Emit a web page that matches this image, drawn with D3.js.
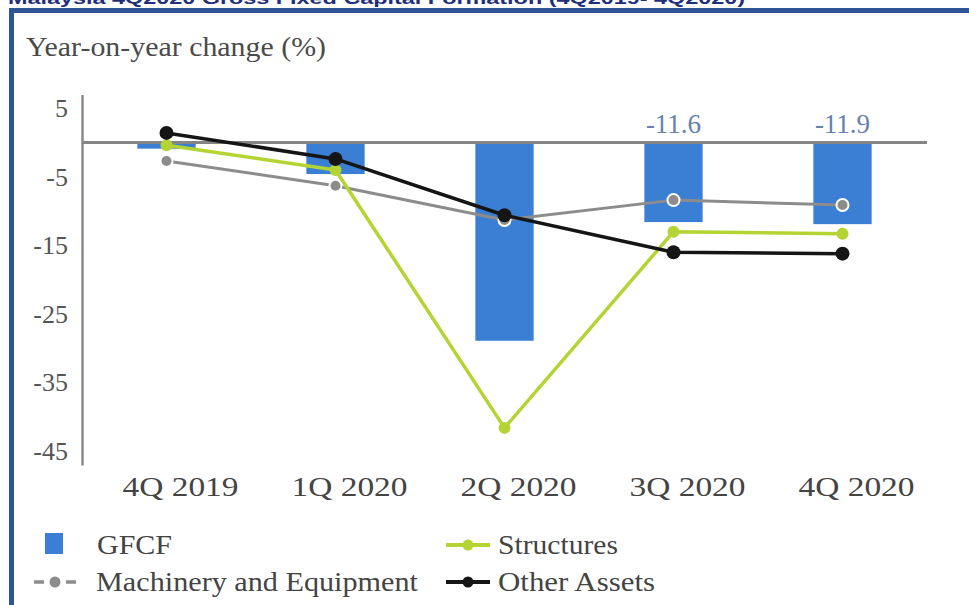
<!DOCTYPE html>
<html>
<head>
<meta charset="utf-8">
<script src="https://cdn.jsdelivr.net/npm/d3@7"></script>
<style>
  html, body { margin: 0; padding: 0; background: #ffffff; }
  svg { display: block; }
</style>
</head>
<body>
<svg id="chart" width="969" height="605"></svg>
<script>
// Quarterly year-on-year change (%) of gross fixed capital formation
const quarters = ["4Q 2019", "1Q 2020", "2Q 2020", "3Q 2020", "4Q 2020"];
const gfcf = [-0.9, -4.6, -28.9, -11.6, -11.9];
const machinery = [-2.7, -6.3, -11.3, -8.4, -9.1];
const structures = [-0.4, -4.0, -41.6, -13.0, -13.3];
const otherAssets = [1.4, -2.4, -10.6, -16.0, -16.2];
const yTicks = [5, -5, -15, -25, -35, -45];
const labelledBars = [3, 4];

const svg = d3.select("#chart");
const serif = "'Liberation Serif', 'DejaVu Serif', serif";
// plain hyphen for negatives, as printed in the source publication
const hyphenNum = (v, digits) => (v < 0 ? "-" : "") + Math.abs(v).toFixed(digits);

// Page frame: title strip and blue border
svg.append("text")
  .attr("x", 8).attr("y", 4)
  .attr("font-family", "'Liberation Sans', Arial, sans-serif")
  .attr("font-weight", "bold").attr("font-size", 17)
  .attr("fill", "#1f2f7a")
  .attr("textLength", 737).attr("lengthAdjust", "spacingAndGlyphs")
  .text("Malaysia 4Q2020 Gross Fixed Capital Formation (4Q2019- 4Q2020)");
svg.append("rect").attr("x", 9).attr("y", 8).attr("width", 960).attr("height", 5).attr("fill", "#2f5597");
svg.append("rect").attr("x", 9).attr("y", 8).attr("width", 5).attr("height", 597).attr("fill", "#2f5597");

// Scales
const x = d3.scaleBand().domain(quarters).range([82, 927]);
const y = d3.scaleLinear().domain([7, -47]).range([142.5 - 6.86 * 7, 142.5 + 6.86 * 47]);
const cx = q => x(q) + x.bandwidth() / 2;
const barW = x.bandwidth() * 0.345;

// Axis title
svg.append("text")
  .attr("x", 26).attr("y", 56)
  .attr("font-family", serif).attr("font-size", 28).attr("fill", "#4a4a4a")
  .attr("textLength", 300).attr("lengthAdjust", "spacingAndGlyphs")
  .text("Year-on-year change (%)");

// GFCF bars
svg.append("g").selectAll("rect")
  .data(quarters)
  .join("rect")
  .attr("x", q => cx(q) - barW / 2)
  .attr("width", barW)
  .attr("y", (q, i) => Math.min(y(0), y(gfcf[i])))
  .attr("height", (q, i) => Math.abs(y(gfcf[i]) - y(0)))
  .attr("fill", "#3a7fd4");

// Y axis (line + tick labels)
const yAxis = d3.axisLeft(y).tickValues(yTicks).tickSize(0).tickPadding(14)
  .tickFormat(d => hyphenNum(d, 0));
const gy = svg.append("g").attr("transform", "translate(82,0)").call(yAxis);
gy.select(".domain").attr("stroke", "#8a8a8a").attr("stroke-width", 2.5);
gy.selectAll("text")
  .attr("font-family", serif).attr("font-size", 26).attr("fill", "#555")
  .attr("dy", "0.32em");

// Zero line
svg.append("line")
  .attr("x1", 82).attr("x2", 927)
  .attr("y1", y(0)).attr("y2", y(0))
  .attr("stroke", "#858585").attr("stroke-width", 3);

// X axis labels
const xAxis = d3.axisBottom(x).tickSize(0).tickPadding(0);
const gx = svg.append("g").attr("transform", "translate(0,496)").call(xAxis);
gx.select(".domain").remove();
gx.selectAll("text")
  .attr("font-family", serif).attr("font-size", 28).attr("fill", "#444")
  .attr("x", 14).attr("dy", 0)
  .attr("textLength", 116).attr("lengthAdjust", "spacingAndGlyphs");

// Value labels on selected bars
svg.append("g").selectAll("text")
  .data(labelledBars)
  .join("text")
  .attr("x", i => cx(quarters[i]))
  .attr("y", 133)
  .attr("text-anchor", "middle")
  .attr("font-family", serif).attr("font-size", 27).attr("fill", "#6482ad")
  .text(i => hyphenNum(gfcf[i], 1));

// Line series
const series = [
  { name: "Machinery and Equipment", values: machinery, color: "#8c8c8c", width: 3, r: 6, stroke: "#ffffff", sw: 2 },
  { name: "Structures", values: structures, color: "#b4d433", width: 3.5, r: 6, stroke: "none", sw: 0 },
  { name: "Other Assets", values: otherAssets, color: "#151515", width: 3.5, r: 7, stroke: "none", sw: 0 }
];
const line = d3.line().x(d => cx(d.q)).y(d => y(d.v));

series.forEach(s => {
  const pts = quarters.map((q, i) => ({ q, v: s.values[i] }));
  const g = svg.append("g");
  g.append("path")
    .attr("d", line(pts))
    .attr("fill", "none")
    .attr("stroke", s.color)
    .attr("stroke-width", s.width)
    .attr("stroke-linejoin", "round");
  g.selectAll("circle")
    .data(pts)
    .join("circle")
    .attr("cx", d => cx(d.q)).attr("cy", d => y(d.v))
    .attr("r", s.r)
    .attr("fill", s.color)
    .attr("stroke", s.stroke).attr("stroke-width", s.sw);
});

// Legend
const legend = svg.append("g").attr("font-family", serif).attr("font-size", 28).attr("fill", "#444");
legend.append("rect").attr("x", 45).attr("y", 533).attr("width", 18).attr("height", 21).attr("fill", "#3a7fd4");
legend.append("text").attr("x", 97).attr("y", 554)
  .attr("textLength", 75).attr("lengthAdjust", "spacingAndGlyphs").text("GFCF");

function lineKey(g, x0, yy, s, dashed) {
  if (dashed) {
    g.append("line").attr("x1", x0 - 2).attr("x2", x0 + 8).attr("y1", yy).attr("y2", yy)
      .attr("stroke", s.color).attr("stroke-width", 3.5);
    g.append("line").attr("x1", x0 + 30).attr("x2", x0 + 40).attr("y1", yy).attr("y2", yy)
      .attr("stroke", s.color).attr("stroke-width", 3.5);
  } else {
    g.append("line").attr("x1", x0).attr("x2", x0 + 44).attr("y1", yy).attr("y2", yy)
      .attr("stroke", s.color).attr("stroke-width", 4);
  }
  g.append("circle").attr("cx", x0 + (dashed ? 19 : 22)).attr("cy", yy).attr("r", 5.5).attr("fill", s.color);
}

lineKey(legend, 446, 545, series[1], false);
legend.append("text").attr("x", 498).attr("y", 554)
  .attr("textLength", 120).attr("lengthAdjust", "spacingAndGlyphs").text(series[1].name);

lineKey(legend, 36, 582, series[0], true);
legend.append("text").attr("x", 96).attr("y", 591)
  .attr("textLength", 322).attr("lengthAdjust", "spacingAndGlyphs").text(series[0].name);

lineKey(legend, 446, 582, series[2], false);
legend.append("text").attr("x", 498).attr("y", 591)
  .attr("textLength", 157).attr("lengthAdjust", "spacingAndGlyphs").text(series[2].name);
</script>
</body>
</html>
